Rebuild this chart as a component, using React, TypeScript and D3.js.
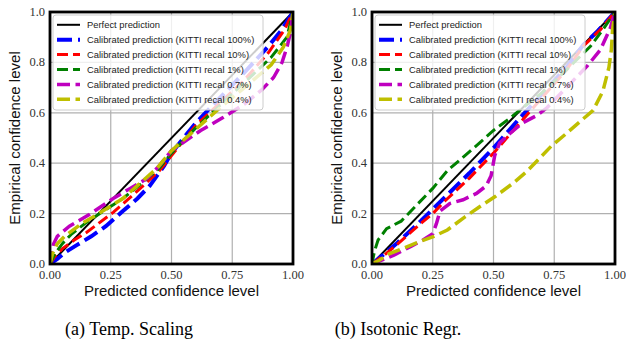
import * as d3 from "d3";

const X_TICKS = [0, 0.25, 0.5, 0.75, 1];
const Y_TICKS = [0, 0.2, 0.4, 0.6, 0.8, 1];
const LEGEND_LABELS = [
  "Perfect prediction",
  "Calibrated prediction (KITTI recal 100%)",
  "Calibrated prediction (KITTI recal 10%)",
  "Calibrated prediction (KITTI recal 1%)",
  "Calibrated prediction (KITTI recal 0.7%)",
  "Calibrated prediction (KITTI recal 0.4%)",
];
const CAPTIONS = ["(a) Temp. Scaling", "(b) Isotonic Regr."];

const perfect: [number, number][] = [[0, 0], [1, 1]];

// (a) temperature scaling
const tsBlue: [number, number][] = [[0, 0], [0.03, 0.02], [0.06, 0.045], [0.11, 0.075], [0.17, 0.11], [0.23, 0.15], [0.3, 0.21], [0.36, 0.26], [0.41, 0.31], [0.47, 0.39], [0.5, 0.44], [0.55, 0.5], [0.6, 0.56], [0.7, 0.66], [0.8, 0.76], [0.9, 0.865], [0.95, 0.925], [0.98, 0.97], [1, 1]];
const tsRed: [number, number][] = [[0, 0], [0.02, 0.03], [0.05, 0.06], [0.1, 0.095], [0.15, 0.125], [0.26, 0.205], [0.36, 0.29], [0.45, 0.37], [0.5, 0.43], [0.6, 0.55], [0.7, 0.64], [0.8, 0.73], [0.9, 0.84], [0.965, 0.93], [1, 1]];
const tsGreen: [number, number][] = [[0, 0], [0.02, 0.04], [0.05, 0.08], [0.09, 0.12], [0.15, 0.165], [0.22, 0.21], [0.3, 0.26], [0.39, 0.33], [0.45, 0.38], [0.5, 0.44], [0.6, 0.54], [0.7, 0.63], [0.8, 0.72], [0.91, 0.82], [0.975, 0.9], [1, 1]];
const tsMagenta: [number, number][] = [[0, 0], [0.005, 0.04], [0.015, 0.08], [0.03, 0.11], [0.08, 0.15], [0.16, 0.195], [0.26, 0.26], [0.33, 0.3], [0.4, 0.34], [0.45, 0.39], [0.5, 0.45], [0.62, 0.53], [0.71, 0.58], [0.8, 0.635], [0.87, 0.69], [0.92, 0.74], [0.955, 0.8], [0.975, 0.86], [0.99, 0.92], [1, 1]];
const tsYellow: [number, number][] = [[0, 0], [0.01, 0.04], [0.03, 0.08], [0.06, 0.11], [0.13, 0.16], [0.2, 0.2], [0.3, 0.26], [0.37, 0.32], [0.44, 0.38], [0.5, 0.45], [0.6, 0.535], [0.7, 0.62], [0.8, 0.7], [0.91, 0.79], [0.96, 0.86], [0.99, 0.93], [1, 1]];

// (b) isotonic regression
const irBlue: [number, number][] = [[0, 0], [0.05, 0.04], [0.1, 0.08], [0.2, 0.17], [0.3, 0.265], [0.4, 0.36], [0.5, 0.46], [0.6, 0.57], [0.7, 0.675], [0.8, 0.78], [0.87, 0.87], [0.93, 0.925], [1, 1]];
const irRed: [number, number][] = [[0, 0], [0.05, 0.035], [0.1, 0.075], [0.2, 0.16], [0.25, 0.2], [0.3, 0.25], [0.4, 0.34], [0.5, 0.44], [0.6, 0.55], [0.7, 0.66], [0.8, 0.77], [0.87, 0.865], [0.94, 0.93], [1, 1]];
const irGreen: [number, number][] = [[0, 0], [0.01, 0.05], [0.025, 0.095], [0.06, 0.14], [0.12, 0.17], [0.18, 0.23], [0.25, 0.3], [0.31, 0.37], [0.37, 0.42], [0.43, 0.47], [0.5, 0.53], [0.57, 0.58], [0.62, 0.62], [0.7, 0.68], [0.8, 0.77], [0.9, 0.865], [0.95, 0.93], [1, 1]];
const irMagenta: [number, number][] = [[0, 0], [0.04, 0.015], [0.09, 0.035], [0.16, 0.07], [0.21, 0.095], [0.25, 0.12], [0.265, 0.16], [0.28, 0.21], [0.32, 0.24], [0.375, 0.255], [0.43, 0.28], [0.47, 0.31], [0.49, 0.35], [0.505, 0.43], [0.525, 0.48], [0.57, 0.52], [0.62, 0.56], [0.68, 0.59], [0.72, 0.62], [0.8, 0.7], [0.885, 0.785], [0.94, 0.85], [0.98, 0.935], [1, 1]];
const irYellow: [number, number][] = [[0, 0], [0.03, 0.015], [0.07, 0.04], [0.13, 0.063], [0.2, 0.09], [0.255, 0.11], [0.31, 0.135], [0.38, 0.185], [0.44, 0.225], [0.51, 0.27], [0.58, 0.32], [0.64, 0.37], [0.69, 0.42], [0.74, 0.47], [0.79, 0.51], [0.85, 0.56], [0.91, 0.61], [0.95, 0.685], [0.975, 0.78], [0.985, 0.85], [0.99, 0.93], [1, 1]];

const STYLES = [
  { color: "#000000", width: 2, dash: "none" },
  { color: "#0000ff", width: 4, dash: "15 6" },
  { color: "#ff0000", width: 3, dash: "11 5" },
  { color: "#008000", width: 3, dash: "11 5" },
  { color: "#bf00bf", width: 3.5, dash: "13 5.5" },
  { color: "#bfbf00", width: 3.5, dash: "13 5.5" },
];

const PANELS = [
  { x0: 50, series: [perfect, tsBlue, tsRed, tsGreen, tsMagenta, tsYellow], caption: CAPTIONS[0], capX: 129 },
  { x0: 372, series: [perfect, irBlue, irRed, irGreen, irMagenta, irYellow], caption: CAPTIONS[1], capX: 398 },
];

const PLOT_W = 243;
const TOP = 12;
const BOTTOM = 264;

function Panel({ x0, series, caption, capX, idx }: any) {
  const x = d3.scaleLinear().domain([0, 1]).range([x0, x0 + PLOT_W]);
  const y = d3.scaleLinear().domain([0, 1]).range([BOTTOM, TOP]);
  const line = d3.line<[number, number]>().x((d) => x(d[0])).y((d) => y(d[1]));
  const clipId = `clip-${idx}`;
  const midY = (TOP + BOTTOM) / 2;

  return (
    <g>
      <defs>
        <clipPath id={clipId}>
          <rect x={x0} y={TOP} width={PLOT_W} height={BOTTOM - TOP} />
        </clipPath>
      </defs>

      {/* grid */}
      {X_TICKS.map((t) => (
        <line key={`gx${t}`} x1={x(t)} x2={x(t)} y1={TOP} y2={BOTTOM} stroke="#b0b0b0" strokeWidth={1.2} />
      ))}
      {Y_TICKS.map((t) => (
        <line key={`gy${t}`} x1={x0} x2={x0 + PLOT_W} y1={y(t)} y2={y(t)} stroke="#b0b0b0" strokeWidth={1.2} />
      ))}

      {/* curves */}
      <g clipPath={`url(#${clipId})`}>
        {series.map((s: [number, number][], i: number) => (
          <path key={i} d={line(s) || ""} fill="none" stroke={STYLES[i].color}
            strokeWidth={STYLES[i].width} strokeDasharray={STYLES[i].dash} />
        ))}
      </g>

      {/* legend */}
      <rect x={x0 + 3} y={15} width={210} height={95} rx={3} fill="#fff" fillOpacity={0.8} stroke="#cccccc" strokeWidth={1} />
      {LEGEND_LABELS.map((lab, i) => {
        const ly = 24.8 + i * 14.9;
        return (
          <g key={lab}>
            <line x1={x0 + 7} x2={x0 + 30} y1={ly} y2={ly} stroke={STYLES[i].color}
              strokeWidth={STYLES[i].width} strokeDasharray={STYLES[i].dash} />
            <text x={x0 + 37} y={ly} dominantBaseline="central" fontSize={9.4}
              fontFamily="Liberation Sans, sans-serif" fill="#222">{lab}</text>
          </g>
        );
      })}

      {/* frame */}
      <rect x={x0} y={TOP} width={PLOT_W} height={BOTTOM - TOP} fill="none" stroke="#000" strokeWidth={2.8} />

      {/* tick labels */}
      {X_TICKS.map((t) => (
        <text key={`tx${t}`} x={x(t)} y={279} textAnchor="middle" fontSize={12.5}
          fontFamily="Liberation Serif, serif" fill="#333">{t.toFixed(2)}</text>
      ))}
      {Y_TICKS.map((t) => (
        <text key={`ty${t}`} x={x0 - 5} y={y(t)} textAnchor="end" dominantBaseline="central" fontSize={12.5}
          fontFamily="Liberation Serif, serif" fill="#333">{t.toFixed(1)}</text>
      ))}

      {/* axis titles */}
      <text x={x0 + PLOT_W / 2} y={296} textAnchor="middle" fontSize={15}
        fontFamily="Liberation Sans, sans-serif" fill="#111">Predicted confidence level</text>
      <text transform={`translate(${x0 - 30},${midY}) rotate(-90)`} textAnchor="middle" fontSize={15}
        fontFamily="Liberation Sans, sans-serif" fill="#111">Empirical confidence level</text>

      {/* caption */}
      <text x={capX} y={335} textAnchor="middle" fontSize={18}
        fontFamily="Liberation Serif, serif" fill="#000">{caption}</text>
    </g>
  );
}

export default function App() {
  return (
    <svg width={626} height={349} style={{ position: "absolute", left: 0, top: 0, background: "#fff" }}>
      <rect width={626} height={349} fill="#fff" />
      {PANELS.map((p, i) => (
        <Panel key={i} idx={i} {...p} />
      ))}
    </svg>
  );
}
